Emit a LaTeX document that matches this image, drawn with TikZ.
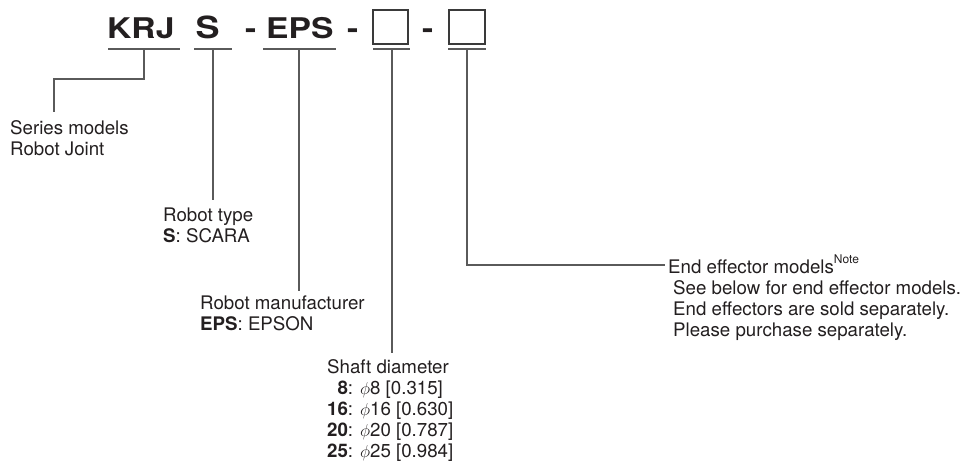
\documentclass[tikz,border=0pt]{standalone}
\usepackage{fontspec}
\setmainfont{TeX Gyre Heros}
\newfontfamily\bigfont[FakeStretch=1.18]{TeX Gyre Heros}
\definecolor{txt}{HTML}{231F20}
\definecolor{lc}{HTML}{5A5A5A}
\definecolor{bc}{HTML}{3A3A3A}
\begin{document}
\begin{tikzpicture}[x=1pt,y=-1pt,
  lbl/.style={anchor=base west, inner sep=0pt, text=txt, font=\fontsize{18.7}{21}\selectfont},
  code/.style={anchor=base west, inner sep=0pt, text=txt, font=\bigfont\bfseries\fontsize{28.5}{30}\selectfont},
  uline/.style={draw=lc, line width=1.2pt},
  lead/.style={draw=lc, line width=1.1pt},
  slot/.style={draw=bc, line width=1.5pt, minimum height=34pt, inner sep=0pt}]
\useasboundingbox (0,0) rectangle (961,461);
% code parts
\node[code] (krj) at (107,38) {KRJ};
\node[code, font=\bigfont\bfseries\fontsize{30.5}{30}\selectfont] (s) at (195.5,38) {S};
\node[code] (d1) at (245,38) {-};
\node[code] (eps) at (266,38) {EPS};
\node[code] (d2) at (347,38) {-};
\node[slot, minimum width=35pt] (b1) at (390.5,27) {};
\node[code] (d3) at (422,38) {-};
\node[slot, minimum width=36pt] (b2) at (467,27) {};
% underlines
\coordinate (ukrj) at (144,49);
\coordinate (us) at (213,49);
\coordinate (ueps) at (299,49);
\coordinate (ub1) at (392,49);
\coordinate (ub2) at (467,49);
\draw[uline] (108,49) -- (180,49);
\draw[uline] (194,49) -- (232,49);
\draw[uline] (263,49) -- (336,49);
\draw[uline] (373,49) -- (410,49);
\draw[uline] (448,49) -- (486,49);
% labels
\node[lbl] (lseries) at (10,134) {\begin{tabular}[t]{@{}l@{}}Series models\\Robot Joint\end{tabular}};
\node[lbl] (ltype) at (163,221.5) {\begin{tabular}[t]{@{}l@{}}Robot type\\\textbf{S}: SCARA\end{tabular}};
\node[lbl] (lmanu) at (200,309.5) {\begin{tabular}[t]{@{}l@{}}Robot manufacturer\\\textbf{EPS}: EPSON\end{tabular}};
\node[lbl] (lshaft) at (327,373) {\begin{tabular}[t]{@{}r@{}l@{}}\multicolumn{2}{@{}l@{}}{Shaft diameter}\\
\textbf{8}&: $\phi$8 [0.315]\\
\textbf{16}&: $\phi$16 [0.630]\\
\textbf{20}&: $\phi$20 [0.787]\\
\textbf{25}&: $\phi$25 [0.984]\end{tabular}};
\node[lbl] (lend) at (668,273) {\begin{tabular}[t]{@{}l@{}}End effector models\raisebox{10pt}{\fontsize{12}{13}\selectfont Note}\\
\hspace{5pt}See below for end effector models.\\
\hspace{5pt}End effectors are sold separately.\\
\hspace{5pt}Please purchase separately.\end{tabular}};
% leader ends
\coordinate (eseries) at (54,112);
\coordinate (etype) at (213,200);
\coordinate (emanu) at (299,291);
\coordinate (eshaft) at (392,353);
\coordinate (eend) at (665,265);
% leaders
\draw[lead] (ukrj) -- (144,79) -| (eseries);
\draw[lead] (us) -- (etype);
\draw[lead] (ueps) -- (emanu);
\draw[lead] (ub1) -- (eshaft);
\draw[lead] (ub2) |- (eend);
\end{tikzpicture}
\end{document}
